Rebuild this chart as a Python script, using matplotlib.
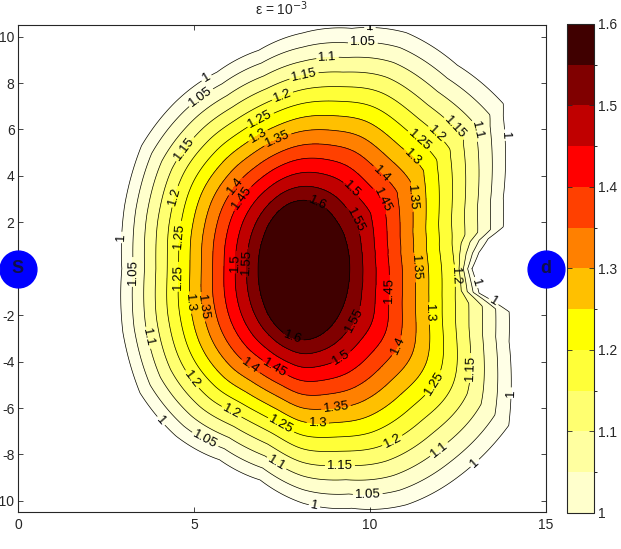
import numpy as np
import matplotlib
matplotlib.use('Agg')
from matplotlib import pyplot as plt
from matplotlib.colors import ListedColormap, BoundaryNorm
from matplotlib.cm import ScalarMappable
from matplotlib.ticker import FormatStrFormatter

plt.rcParams['font.family'] = ['Liberation Sans', 'DejaVu Sans']
plt.rcParams['axes.unicode_minus'] = False

# --------- DATA ---------

levels = [1.0, 1.05, 1.1, 1.15, 1.2, 1.25, 1.3, 1.35, 1.4, 1.45, 1.5, 1.55, 1.6]
# colour bar bins, bottom to top
band_colors = ['#ffffcc', '#ffffa0', '#ffff70', '#ffff38', '#ffff00', '#ffc000',
               '#ff8000', '#ff4000', '#ff0000', '#c00000', '#800000', '#400000']
# the plot fills each band one bin lower, the outermost one paler still
outer_color = '#ffffe6'
cbar_ticks = [1.0, 1.1, 1.2, 1.3, 1.4, 1.5, 1.6]
x_ticks = [0, 5, 10, 15]
y_ticks = [-10, -8, -6, -4, -2, 0, 2, 4, 6, 8, 10]
y_ticklabels = ['-10', '-8', '-6', '-4', '-2', '', '2', '4', '6', '8', '10']  # 0 sits under S

# three level curves, as radii around the centre (8.1, 0) in stretched
# units u = x - 8.1, v = y / 2, at these polar angles (degrees)
centre = (8.1, 0.0)
v_stretch = 2.0
angles = [-9, -6, 0, 4, 7, 9, 15, 30, 32, 45,
          60, 75, 90, 105, 120, 135, 150, 165, 180, 195,
          210, 225, 240, 255, 270, 285, 300, 315, 330, 345]
# level 1.0 = edge of the domain (with the notch next to d)
r_edge = [5.93, 5.03, 4.80, 5.01, 5.30, 5.76, 5.89, 6.57, 6.71, 6.20,
          5.87, 5.36, 5.08, 4.87, 4.89, 5.10, 5.30, 5.25, 5.15, 5.30,
          5.35, 5.10, 4.75, 4.71, 5.05, 5.34, 5.87, 6.30, 6.75, 6.06]
# level 1.2
r_mid = [4.38, 4.35, 4.31, 4.28, 4.27, 4.29, 4.37, 4.84, 4.90, 4.60,
         4.39, 4.06, 3.86, 3.73, 3.73, 3.86, 3.97, 3.93, 3.86, 3.97,
         4.01, 3.87, 3.65, 3.64, 3.88, 4.07, 4.41, 4.68, 4.93, 4.49]
# level 1.6 (dark core)
r_core = [1.34, 1.33, 1.33, 1.33, 1.33, 1.34, 1.34, 1.37, 1.38, 1.40,
          1.44, 1.47, 1.475, 1.46, 1.42, 1.37, 1.32, 1.29, 1.28, 1.30,
          1.34, 1.40, 1.46, 1.51, 1.535, 1.52, 1.48, 1.43, 1.38, 1.34]

# source / drain markers
node_x = [0, 15]
node_y = [0, 0]
node_text = ['S', 'd']

# where the contour labels sit in the picture
label_xy = [(10.0, 10.34), (9.8, 9.72), (8.8, 8.97), (8.15, 8.15), (7.53, 7.38),
            (6.93, 6.3), (6.82, 5.74), (7.39, 5.52), (5.4, 8.11), (5.26, 7.25),
            (4.6, 5.31), (4.32, 3.16), (4.46, 1.44), (2.9, 1.35), (3.38, -0.15),
            (4.6, -0.35), (5.03, -1.44), (5.17, -1.66), (6.25, 3.46), (6.45, 2.95),
            (6.16, 0.28), (6.53, 0.28), (8.52, 2.82), (9.52, 3.46), (10.34, 2.95),
            (10.37, 4.15), (9.57, 2.09), (11.19, 3.08), (11.19, 4.8), (11.36, 5.44),
            (11.85, 5.74), (12.33, 5.95), (12.98, 5.95), (13.69, 5.74), (11.36, 0.06),
            (12.38, -0.3), (13.0, -0.6), (13.5, -1.45), (10.7, -0.92), (11.8, -1.92),
            (9.57, -2.2), (10.76, -3.3), (9.24, -3.94), (11.76, -4.88), (12.93, -4.28),
            (13.84, -5.35), (9.06, -6.3), (8.52, -6.82), (10.65, -7.45), (11.93, -7.72),
            (12.98, -8.37), (9.15, -8.54), (9.94, -9.79), (8.44, -10.09), (3.8, -2.94),
            (4.8, -4.93), (4.03, -6.6), (5.31, -7.38), (6.07, -6.16), (7.44, -6.82),
            (7.35, -8.37), (6.59, -4.24), (7.24, -4.45), (7.81, -2.94)]


# smooth periodic (cubic Hermite) interpolation of a radius table over angle
def periodic_curve(t, knots, vals):
    k = np.asarray(knots, float)
    v = np.asarray(vals, float)
    order = np.argsort(k)
    k, v = k[order], v[order]
    kk = np.concatenate([k[-2:] - 360, k, k[:2] + 360])
    vv = np.concatenate([v[-2:], v, v[:2]])
    m = np.zeros_like(vv)
    m[1:-1] = (vv[2:] - vv[:-2]) / (kk[2:] - kk[:-2])
    t = (t - k[0]) % 360 + k[0]
    i = np.clip(np.searchsorted(kk, t, side='right') - 1, 1, len(kk) - 3)
    h = kk[i + 1] - kk[i]
    s = (t - kk[i]) / h
    h00 = 2 * s**3 - 3 * s**2 + 1
    h10 = s**3 - 2 * s**2 + s
    h01 = -2 * s**3 + 3 * s**2
    h11 = s**3 - s**2
    return h00 * vv[i] + h10 * h * m[i] + h01 * vv[i + 1] + h11 * h * m[i + 1]


# --------- FIELD FROM THE LEVEL CURVES ---------

x = np.linspace(0, 15, 601)
y = np.linspace(-10.5, 10.5, 841)
X, Y = np.meshgrid(x, y)
U = X - centre[0]
V = (Y - centre[1]) / v_stretch
R = np.hypot(U, V)
T = np.degrees(np.arctan2(V, U))

rc = periodic_curve(T, angles, r_core)
rm = periodic_curve(T, angles, r_mid)
# the domain edge is made of straight-ish pieces, keep it piecewise linear
re = np.interp(T % 360, angles, r_edge, period=360)

Z = np.where(R <= rc, 1.6 + 0.1 * (1 - R / rc),
             np.where(R <= rm, 1.6 - 0.4 * (R - rc) / (rm - rc),
                      1.2 - 0.2 * (R - rm) / (re - rm)))

# --------- PLOT ---------

fig = plt.figure(figsize=(6.21, 5.49), dpi=100)
ax = fig.add_axes([0.029, 0.0665, 0.850, 0.888])

ax.contourf(X, Y, Z, levels=levels, colors=[outer_color] + band_colors, extend='max')
cl = ax.contour(X, Y, Z, levels=levels, colors='k', linewidths=0.5)
ax.clabel(cl, levels, fmt='%g', fontsize=9.5, inline=True, inline_spacing=2,
          manual=label_xy)

ax.plot(node_x, node_y, 'o', ms=26.5, color='#0000ff', clip_on=False, zorder=6)
for nx, ny, s in zip(node_x, node_y, node_text):
    ax.text(nx, ny, s, ha='center', va='center', fontsize=13, fontweight='bold',
            color='#10104a', zorder=7, clip_on=False)

ax.set_xlim(0, 15)
ax.set_ylim(-10.5, 10.5)
ax.set_xticks(x_ticks)
ax.set_yticks(y_ticks)
ax.set_yticklabels(y_ticklabels)
ax.tick_params(direction='in', top=True, right=True, length=3.5, width=0.6,
               labelsize=10, colors='#262626')
ax.tick_params(axis='x', pad=4)
ax.tick_params(axis='y', pad=2.5)
for sp in ax.spines.values():
    sp.set_linewidth(0.8)
    sp.set_color('#262626')
ax.set_title('\u03b5 = 10$^{-3}$', fontsize=10, pad=7, color='#262626')

cax = fig.add_axes([0.913, 0.0656, 0.0435, 0.891])
sm = ScalarMappable(norm=BoundaryNorm(levels, len(band_colors)),
                    cmap=ListedColormap(band_colors))
cb = fig.colorbar(sm, cax=cax, ticks=cbar_ticks)
cb.ax.yaxis.set_major_formatter(FormatStrFormatter('%g'))
cb.ax.tick_params(direction='in', left=True, right=True, length=3.5, width=0.6,
                  labelsize=10, colors='#262626', pad=3)
cb.outline.set_linewidth(0.8)
cb.outline.set_edgecolor('#262626')

fig.savefig('out.png', dpi=100)
